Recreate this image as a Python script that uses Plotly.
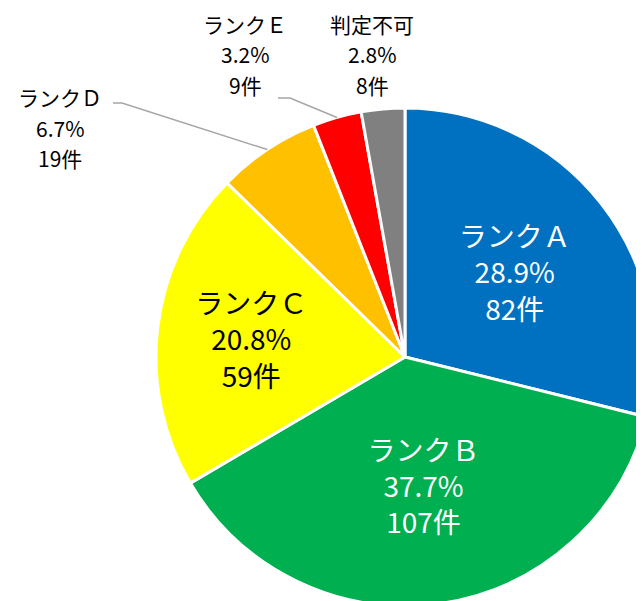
import math
import plotly.graph_objects as go

labels = ["ランクＡ", "ランクＢ", "ランクＣ", "ランクＤ", "ランクＥ", "判定不可"]
counts = [82, 107, 59, 19, 9, 8]
colors = ["#0070C0", "#00B050", "#FFFF00", "#FFC000", "#FF0000", "#808080"]
text_colors = ["white", "white", "black", "black", "black", "black"]
show_inside = [True, True, True, False, False, False]

W, H = 700, 650
OFF = 8  # page body margin
cx, cy, r = 405 - OFF, 357 - OFF, 249
total = sum(counts)
pcts = [c / total for c in counts]

templates = ["%{label}<br>%{percent:.1%}<br>%{value}件" if s else "" for s in show_inside]

fig = go.Figure(go.Pie(
    labels=labels,
    values=counts,
    sort=False,
    direction="clockwise",
    rotation=0,
    marker=dict(colors=colors, line=dict(color="white", width=3)),
    texttemplate=templates,
    textposition="inside",
    insidetextorientation="horizontal",
    textfont=dict(color=text_colors, size=28, family="Noto Sans CJK JP"),
    showlegend=False,
    hoverinfo="none",
    domain=dict(x=[(cx - r) / W, (cx + r) / W], y=[(H - cy - r) / H, (H - cy + r) / H]),
))

# outside labels (px positions of text centers in the page) and leader lines
outside = {
    3: dict(x=60, y=[97, 128, 158], line_from=(113, 103), elbow=(122, 103)),
    4: dict(x=245, y=[24, 54, 85], line_from=(278, 98), elbow=(290, 98)),
    5: dict(x=372, y=[24, 54, 85], line_from=None, elbow=None),
}

def px(x, y):
    return (x - OFF) / W, 1 - (y - OFF) / H

for i, info in outside.items():
    lines = [labels[i], f"{pcts[i]*100:.1f}%", f"{counts[i]}件"]
    for txt, yy in zip(lines, info["y"]):
        ax_, ay_ = px(info["x"], yy)
        fig.add_annotation(x=ax_, y=ay_, xref="paper", yref="paper", text=txt,
                           showarrow=False, xanchor="center", yanchor="middle",
                           font=dict(size=21, color="black", family="Noto Sans CJK JP"))
    if info["line_from"]:
        cum = sum(pcts[:i]) + pcts[i] / 2
        ang = 2 * math.pi * cum
        ex, ey = cx + OFF + r * math.sin(ang), cy + OFF - r * math.cos(ang)
        x0, y0 = px(*info["line_from"])
        x1, y1 = px(*info["elbow"])
        x2, y2 = px(ex, ey)
        fig.add_shape(type="path", xref="paper", yref="paper",
                      path=f"M {x0} {y0} L {x1} {y1} L {x2} {y2}",
                      line=dict(color="#A6A6A6", width=1.5))

fig.update_layout(
    width=W, height=H,
    margin=dict(l=0, r=0, t=0, b=0),
    paper_bgcolor="white",
    font=dict(family="Noto Sans CJK JP"),
)
fig.write_html("out.html")
